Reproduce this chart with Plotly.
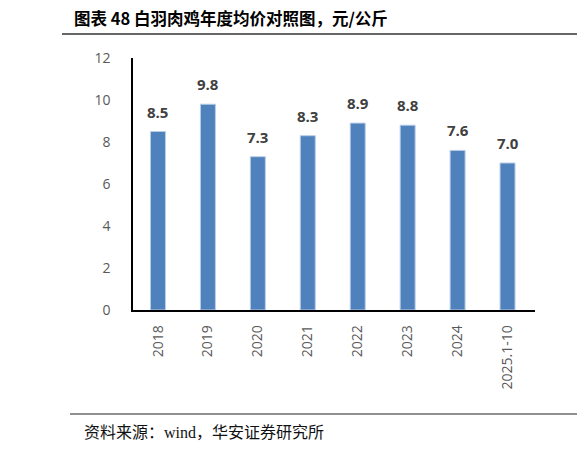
import plotly.graph_objects as go

categories = ["2018", "2019", "2020", "2021", "2022", "2023", "2024", "2025.1-10"]
avg_price = [8.5, 9.8, 7.3, 8.3, 8.9, 8.8, 7.6, 7.0]
price_labels = ["8.5", "9.8", "7.3", "8.3", "8.9", "8.8", "7.6", "7.0"]
y_ticks = [0, 2, 4, 6, 8, 10, 12]

title_text = "图表 48 白羽肉鸡年度均价对照图，元/公斤"
source_text = "资料来源：wind，华安证券研究所"

# page body adds 8px margin, so the figure is drawn 8px smaller
W, H = 577, 443
L, R, T, B = 125, 50, 50, 141
PW, PH = W - L - R, H - T - B


def px(x):
    return (x - 8 - L) / PW


def py(y):
    return (H - B - (y - 8)) / PH


fig = go.Figure()
fig.add_trace(go.Bar(
    x=categories, y=avg_price,
    marker=dict(color="#4F81BD", line=dict(color="#B9CDE5", width=1)),
    width=0.3,
))

annotations = []
# numeric x = category index (string years would be read as numbers)
for i, (val, lab) in enumerate(zip(avg_price, price_labels)):
    annotations.append(dict(
        x=i, y=val, text="<b>%s</b>" % lab, showarrow=False,
        yanchor="bottom", yshift=8,
        font=dict(family="Open Sans, Noto Sans", size=15, color="#404040")))

annotations += [
    dict(xref="paper", yref="paper", x=px(72), y=py(18), text="<b>%s</b>" % title_text,
         showarrow=False, xanchor="left", yanchor="middle",
         font=dict(family="Noto Sans CJK SC", size=16.5, color="#000000")),
    dict(xref="paper", yref="paper", x=px(580), y=py(18), text="<b>图</b>",
         showarrow=False, xanchor="left", yanchor="middle",
         font=dict(family="Noto Sans CJK SC", size=16, color="#000000")),
    dict(xref="paper", yref="paper", x=px(82), y=py(432), text=source_text,
         showarrow=False, xanchor="left", yanchor="middle",
         font=dict(family="Liberation Serif, Noto Sans CJK SC", size=16, color="#111111")),
    dict(xref="paper", yref="paper", x=px(580), y=py(432), text="资",
         showarrow=False, xanchor="left", yanchor="middle",
         font=dict(family="Noto Sans CJK SC", size=16, color="#111111")),
]

fig.update_layout(
    width=W, height=H,
    margin=dict(l=L, r=R, t=T, b=B, autoexpand=False),
    plot_bgcolor="white", paper_bgcolor="white",
    showlegend=False,
    font=dict(family="Noto Sans CJK SC", color="#595959"),
    annotations=annotations,
    shapes=[
        dict(type="line", xref="paper", yref="paper", x0=px(62), x1=px(600),
             y0=py(34), y1=py(34), line=dict(color="#333333", width=1.5)),
        dict(type="line", xref="paper", yref="paper", x0=px(70), x1=px(600),
             y0=py(414), y1=py(414), line=dict(color="#222222", width=1.2)),
    ],
)

fig.update_xaxes(showline=True, linecolor="#000000", linewidth=1.5,
                 tickangle=-90, ticks="", ticklabelstandoff=8,
                 tickfont=dict(family="Open Sans, Noto Sans", size=14, color="#595959"),
                 range=[-0.5, 7.55], showgrid=False)
fig.update_yaxes(showline=True, linecolor="#000000", linewidth=1.5,
                 range=[0, 12], tickvals=y_ticks, ticks="", ticklabelstandoff=18,
                 tickfont=dict(family="Open Sans, Noto Sans", size=14, color="#595959"),
                 showgrid=False, zeroline=False)

fig.write_html("out.html")
